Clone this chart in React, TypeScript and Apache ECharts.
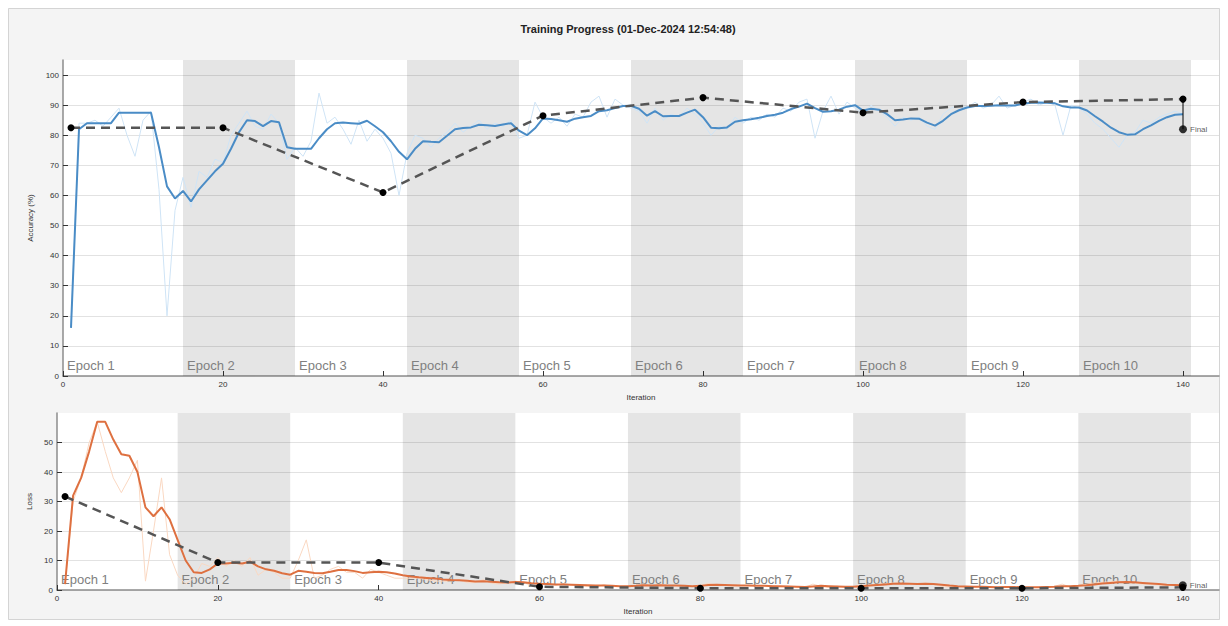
import React, { useEffect, useRef } from "react";
import * as echarts from "echarts";

const TITLE = "Training Progress (01-Dec-2024 12:54:48)";
const epochLabels = ["Epoch 1", "Epoch 2", "Epoch 3", "Epoch 4", "Epoch 5", "Epoch 6", "Epoch 7", "Epoch 8", "Epoch 9", "Epoch 10"];
const epochBounds = [0, 15, 29, 43, 57, 71, 85, 99, 113, 127, 141];
const xTicks = [0, 20, 40, 60, 80, 100, 120, 140];
const accTicks = [0, 10, 20, 30, 40, 50, 60, 70, 80, 90, 100];
const lossTicks = [0, 10, 20, 30, 40, 50];

const trainAccRaw = [
  16, 84, 84, 85, 83, 86, 89, 80, 73, 85,
  88, 62, 20, 55, 66, 56, 68, 66, 72, 71,
  80, 84, 88, 83, 82, 87, 84, 72, 76, 73,
  78, 94, 84, 86, 82, 77, 85, 78, 82, 79,
  74, 60, 74, 80, 79, 76, 79, 81, 84, 81,
  83, 85, 82, 84, 83, 85, 79, 80, 91, 86,
  84, 86, 83, 87, 86, 91, 93, 86, 92, 90,
  89, 88, 84, 89, 85, 87, 86, 89, 87, 84,
  80, 83, 82, 86, 84, 86, 85, 87, 86, 89,
  88, 91, 92, 79, 88, 93, 87, 91, 89, 87,
  90, 88, 86, 83, 86, 85, 86, 83, 82, 87,
  89, 90, 89, 91, 89, 90, 93, 89, 90, 91,
  92, 90, 91, 90, 80, 90, 89, 87, 84, 82,
  79, 76, 80, 81, 85, 84, 86, 87, 88, 87,
];

const trainAccSmooth = [
  16, 82, 84, 84, 84, 84, 87.5, 87.5, 87.5, 87.5,
  87.5, 76, 63, 59, 61.5, 58, 62, 65, 68, 70.5,
  75.5, 81, 85, 84.7, 83, 84.7, 84.3, 76, 75.5, 75.5,
  75.5, 79, 82, 84, 84.2, 84, 83.8, 84.8, 83, 81,
  78, 74.5, 72, 75.5, 78, 77.8, 77.7, 79.8, 82, 82.4,
  82.6, 83.5, 83.3, 83.1, 83.6, 84, 81.5, 80, 82.3, 85.6,
  85.4, 85, 84.5, 85.5, 86, 86.4, 88, 88.3, 89, 89.7,
  89.8, 88.8, 86.5, 88, 86.3, 86.4, 86.4, 87.5, 88.5, 86,
  82.5, 82.3, 82.6, 84.5, 85, 85.3, 85.8, 86.4, 86.8, 87.5,
  88.7, 89.5, 90.5, 89, 87.8, 88, 88.5, 89.5, 90, 88.2,
  88.8, 88.5, 87, 85, 85.2, 85.6, 85.5, 84.2, 83.2, 84.8,
  87, 88.3, 89.2, 89.7, 89.7, 89.8, 90, 89.9, 89.9, 90.5,
  90.8, 90.9, 90.8, 90.6, 89.6, 89.2, 89.2, 88.2, 86.3, 84.5,
  82.5, 81, 80.2, 80.3, 82, 83.3, 84.8, 86, 86.8, 87,
];

const trainLossRaw = [
  2, 30, 38, 50, 57, 47, 38, 33, 38, 44,
  3, 20, 38, 12, 5, 2, 4, 9, 8, 11,
  8, 10, 8, 11, 5, 7, 6, 4, 4, 10,
  17, 4, 5, 7, 8, 6, 6, 4, 7, 6,
  5, 4, 4, 4, 4, 3.5, 3, 3, 3, 3.5,
  2.5, 2.5, 3.5, 2.3, 2, 2.5, 3, 2.5, 1.5, 1.8,
  2, 1.6, 2.2, 1.6, 1.5, 1.2, 1, 1.8, 1.1, 1.2,
  1.3, 1.7, 2, 1.2, 2, 1.4, 1.5, 1.2, 1.3, 1.6,
  2.2, 1.7, 1.6, 1.3, 1.5, 1.4, 1.5, 1.3, 1.4, 1.1,
  1.3, 0.8, 0.9, 2, 1.2, 0.8, 1.3, 0.9, 1.2, 1.7,
  1.4, 2, 2.1, 2.4, 2, 1.9, 2.1, 2.3, 1.8, 1.2,
  1, 1.1, 1, 0.9, 1.2, 0.8, 0.6, 1.2, 0.9, 0.8,
  0.8, 1, 1, 1.2, 2, 1, 1.5, 2, 2.4, 2.6,
  2.8, 3, 2.5, 2.3, 2, 1.9, 1.7, 1.5, 1.6, 1.5,
];

const trainLossSmooth = [
  2, 32, 38, 47, 57, 57, 51, 46, 45.5, 40,
  28, 25, 28, 24, 17, 10, 6, 5.8, 7, 9,
  9, 9.2, 9, 9.6, 8, 7, 6.5, 5.7, 5.2, 6.5,
  6.2, 5.8, 5.7, 6.2, 6.8, 6.8, 6.4, 5.8, 6, 6.2,
  6, 5.6, 5, 4.6, 4.3, 4.1, 3.9, 3.6, 3.4, 3.3,
  3.1, 2.9, 3, 2.8, 2.6, 2.5, 2.7, 2.6, 2.3, 2.1,
  2, 1.9, 1.9, 1.8, 1.7, 1.6, 1.5, 1.5, 1.4, 1.3,
  1.3, 1.4, 1.6, 1.5, 1.6, 1.5, 1.5, 1.4, 1.3, 1.4,
  1.7, 1.8, 1.7, 1.6, 1.5, 1.5, 1.4, 1.4, 1.3, 1.3,
  1.2, 1.1, 1, 1.2, 1.4, 1.3, 1.2, 1.1, 1.1, 1.3,
  1.5, 1.7, 1.9, 2.1, 2.2, 2.1, 2, 2.1, 2, 1.8,
  1.5, 1.3, 1.2, 1.1, 1.1, 1, 0.9, 1, 1, 0.9,
  0.9, 0.9, 1, 1.1, 1.3, 1.3, 1.4, 1.6, 1.9, 2.2,
  2.4, 2.6, 2.7, 2.6, 2.4, 2.2, 2, 1.8, 1.7, 1.6,
];

const valIters = [1, 20, 40, 60, 80, 100, 120, 140];
const valAcc = [82.5, 82.5, 61, 86.5, 92.5, 87.5, 91, 92];
const valLoss = [31.7, 9.3, 9.3, 1.1, 0.6, 0.6, 0.6, 0.9];
const finalIter = 140;
const finalAcc = 82;
const finalLoss = 1.6;

const FONT = "'Liberation Sans', Arial, Helvetica, sans-serif";

function pairs(vals: number[]) {
  return vals.map((v, i) => [i + 1, v]);
}

function epochAreas() {
  return epochLabels.map((name, k) => [
    {
      xAxis: epochBounds[k],
      itemStyle: { color: k % 2 === 1 ? "rgba(0,0,0,0.1)" : "rgba(0,0,0,0)" },
      label: {
        show: true,
        formatter: name,
        position: "insideBottomLeft",
        distance: 4,
        color: "#808080",
        fontSize: 13,
        fontFamily: FONT,
      },
    },
    { xAxis: epochBounds[k + 1] },
  ]);
}

function xAxisDef(gridIndex: number) {
  return {
    type: "value",
    gridIndex,
    min: 0,
    max: 144.5,
    interval: 20,
    axisLine: { show: true, onZero: false, lineStyle: { color: "#8c8c8c", width: 1.5 } },
    axisTick: { show: true, inside: true, length: 5, customValues: xTicks, lineStyle: { color: "#333" } },
    axisLabel: { customValues: xTicks, fontSize: 8, color: "#333", margin: 4, fontFamily: FONT },
    splitLine: { show: false },
    name: "Iteration",
    nameLocation: "middle",
    nameGap: 17,
    nameTextStyle: { fontSize: 8, color: "#333", fontFamily: FONT },
  };
}

function yAxisDef(gridIndex: number, max: number, ticks: number[], name: string, gap: number) {
  return {
    type: "value",
    gridIndex,
    min: 0,
    max,
    interval: 10,
    axisLine: { show: true, lineStyle: { color: "#8c8c8c", width: 1.5 } },
    axisTick: { show: true, inside: true, length: 5, customValues: ticks, lineStyle: { color: "#333" } },
    axisLabel: { customValues: ticks, fontSize: 8, color: "#333", margin: 4, fontFamily: FONT },
    splitLine: { show: true, lineStyle: { color: "#e2e2e2", width: 1 } },
    name,
    nameLocation: "middle",
    nameGap: gap,
    nameTextStyle: { fontSize: 8, color: "#333", fontFamily: FONT },
  };
}

export default function App() {
  const ref = useRef<HTMLDivElement>(null);

  useEffect(() => {
    if (!ref.current) return;
    const chart = echarts.init(ref.current, null, { renderer: "svg" });

    const valAccData = valIters.map((it, i) => [it, valAcc[i]]);
    const valLossData = valIters.map((it, i) => [it, valLoss[i]]);
    const lastValAcc = valAcc[valAcc.length - 1];
    const lastValLoss = valLoss[valLoss.length - 1];

    const option: any = {
      animation: false,
      backgroundColor: "#f4f4f4",
      graphic: [
        {
          type: "rect",
          shape: { x: 0.5, y: 0.5, width: 1211, height: 611 },
          style: { fill: "none", stroke: "#d4d4d4", lineWidth: 1 },
          silent: true,
        },
        {
          type: "text",
          x: 620,
          y: 21,
          style: {
            text: TITLE,
            textAlign: "center",
            textVerticalAlign: "middle",
            fontSize: 11,
            fontWeight: "bold",
            fontFamily: FONT,
            fill: "#222",
          },
        },
      ],
      grid: [
        { left: 55, top: 52, width: 1156, height: 316, backgroundColor: "#fff", show: true, borderWidth: 0 },
        { left: 49, top: 405, width: 1162, height: 177, backgroundColor: "#fff", show: true, borderWidth: 0 },
      ],
      xAxis: [xAxisDef(0), xAxisDef(1)],
      yAxis: [
        yAxisDef(0, 105, accTicks, "Accuracy (%)", 25),
        yAxisDef(1, 60, lossTicks, "Loss", 21),
      ],
      series: [
        {
          type: "line",
          name: "Training accuracy",
          xAxisIndex: 0,
          yAxisIndex: 0,
          data: pairs(trainAccRaw),
          showSymbol: false,
          lineStyle: { color: "#cfe4f6", width: 1 },
          z: 3,
          markArea: { silent: true, data: epochAreas() },
        },
        {
          type: "line",
          name: "Smoothed training accuracy",
          xAxisIndex: 0,
          yAxisIndex: 0,
          data: pairs(trainAccSmooth),
          showSymbol: false,
          lineStyle: { color: "#4a8cc6", width: 2 },
          z: 4,
        },
        {
          type: "line",
          name: "Validation accuracy",
          xAxisIndex: 0,
          yAxisIndex: 0,
          data: valAccData,
          symbol: "circle",
          symbolSize: 7,
          itemStyle: { color: "#000" },
          lineStyle: { color: "#555", width: 2.5, type: [9, 6] },
          z: 5,
        },
        {
          type: "line",
          name: "Final link acc",
          xAxisIndex: 0,
          yAxisIndex: 0,
          data: [[finalIter, lastValAcc], [finalIter, finalAcc]],
          showSymbol: false,
          lineStyle: { color: "#000", width: 1 },
          z: 5,
        },
        {
          type: "scatter",
          name: "Final accuracy",
          xAxisIndex: 0,
          yAxisIndex: 0,
          data: [[finalIter, finalAcc]],
          symbolSize: 8,
          itemStyle: { color: "#000" },
          label: { show: true, position: "right", formatter: "Final", fontSize: 8, color: "#333", distance: 3, fontFamily: FONT },
          z: 6,
        },
        {
          type: "line",
          name: "Training loss",
          xAxisIndex: 1,
          yAxisIndex: 1,
          data: pairs(trainLossRaw),
          showSymbol: false,
          lineStyle: { color: "#fad8c2", width: 1 },
          z: 3,
          markArea: { silent: true, data: epochAreas() },
        },
        {
          type: "line",
          name: "Smoothed training loss",
          xAxisIndex: 1,
          yAxisIndex: 1,
          data: pairs(trainLossSmooth),
          showSymbol: false,
          lineStyle: { color: "#de7040", width: 2 },
          z: 4,
        },
        {
          type: "line",
          name: "Validation loss",
          xAxisIndex: 1,
          yAxisIndex: 1,
          data: valLossData,
          symbol: "circle",
          symbolSize: 7,
          itemStyle: { color: "#000" },
          lineStyle: { color: "#555", width: 2.5, type: [9, 6] },
          z: 5,
        },
        {
          type: "line",
          name: "Final link loss",
          xAxisIndex: 1,
          yAxisIndex: 1,
          data: [[finalIter, lastValLoss], [finalIter, finalLoss]],
          showSymbol: false,
          lineStyle: { color: "#000", width: 1 },
          z: 5,
        },
        {
          type: "scatter",
          name: "Final loss",
          xAxisIndex: 1,
          yAxisIndex: 1,
          data: [[finalIter, finalLoss]],
          symbolSize: 8,
          itemStyle: { color: "#000" },
          label: { show: true, position: "right", formatter: "Final", fontSize: 8, color: "#333", distance: 3, fontFamily: FONT },
          z: 6,
        },
      ],
    };

    chart.setOption(option);
    return () => chart.dispose();
  }, []);

  return <div ref={ref} style={{ width: 1212, height: 612 }} />;
}
